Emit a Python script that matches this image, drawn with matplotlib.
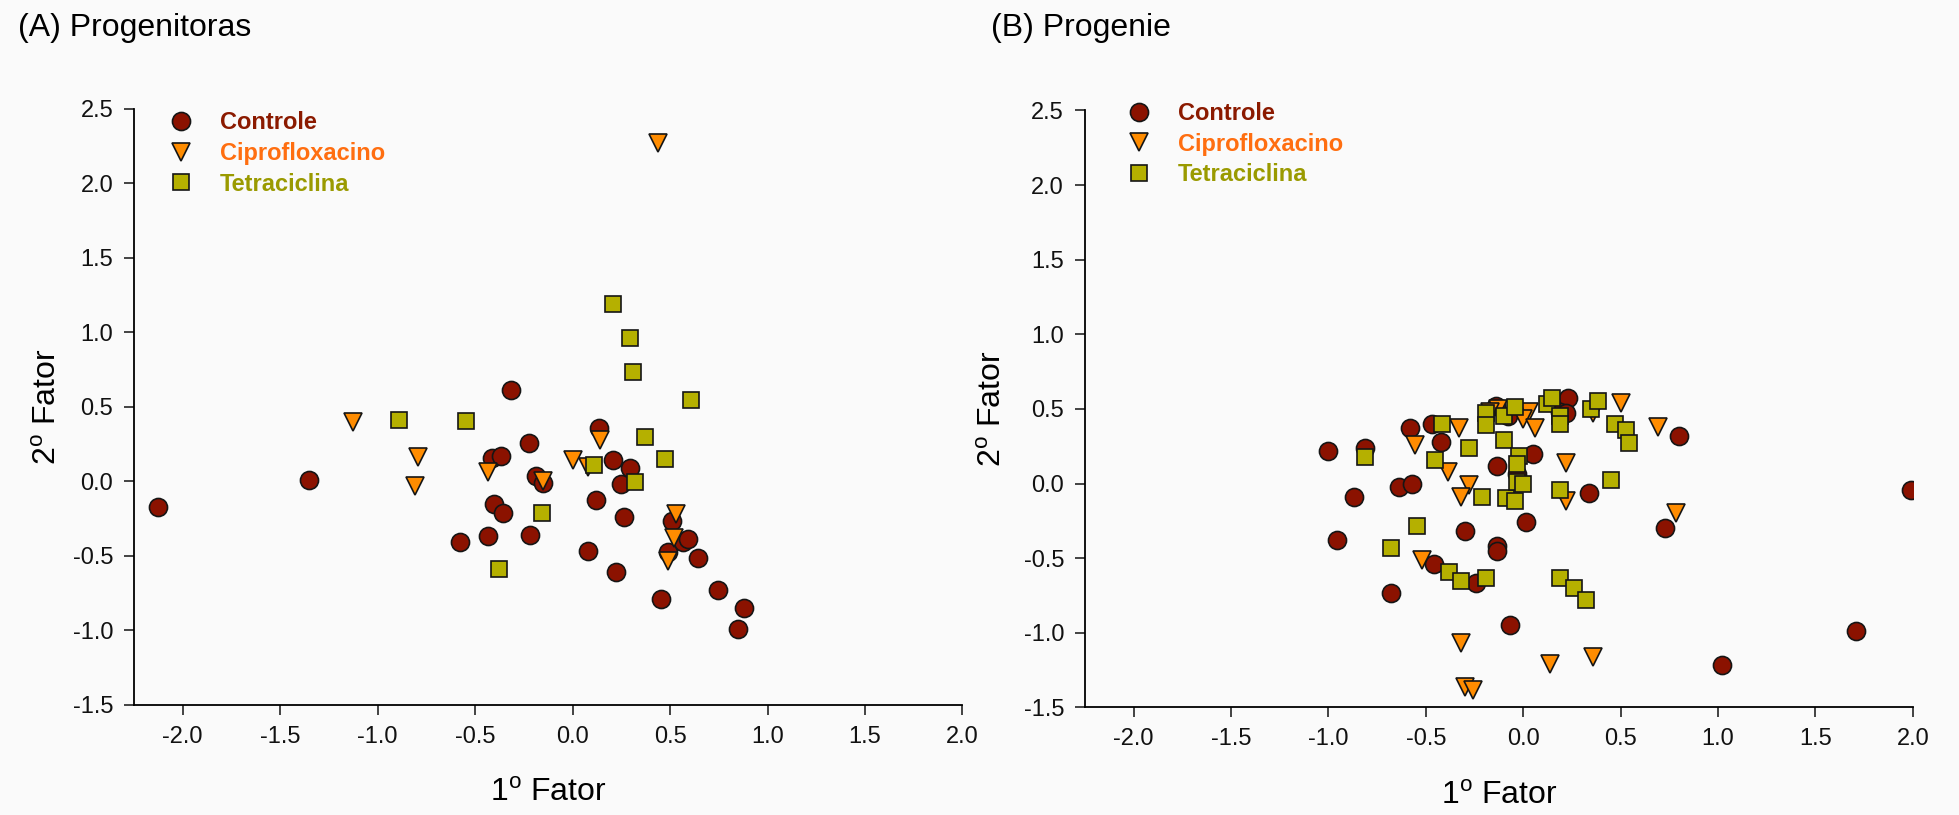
import numpy as np
import matplotlib
matplotlib.use("Agg")
from matplotlib import pyplot as plt
from matplotlib.lines import Line2D

plt.rcParams['font.family'] = ['Liberation Sans', 'DejaVu Sans']
plt.rcParams['mathtext.fontset'] = 'custom'
plt.rcParams['mathtext.rm'] = 'Liberation Sans'

# (A) Progenitoras
a_ctrl_x = [-2.125, -1.35, -0.577, -0.433, -0.413, -0.404, -0.365, -0.356, -0.317, -0.224,
            -0.22, -0.186, -0.154, 0.077, 0.119, 0.135, 0.205, 0.221, 0.25, 0.263,
            0.295, 0.455, 0.487, 0.51, 0.567, 0.59, 0.644, 0.744, 0.846, 0.881]
a_ctrl_y = [-0.17, 0.01, -0.405, -0.363, 0.157, -0.15, 0.174, -0.21, 0.617, 0.26,
            -0.356, 0.038, -0.007, -0.467, -0.122, 0.36, 0.143, -0.607, -0.014, -0.24,
            0.09, -0.79, -0.474, -0.265, -0.405, -0.383, -0.513, -0.73, -0.987, -0.85]
a_cipro_x = [-1.125, -0.795, -0.81, -0.436, 0.003, 0.077, 0.141, -0.154, 0.44, 0.529, 0.519, 0.487]
a_cipro_y = [0.40, 0.164, -0.028, 0.066, 0.146, 0.10, 0.275, 0.0, 2.27, -0.22, -0.377, -0.534]
a_tetra_x = [-0.888, -0.548, -0.375, -0.157, 0.112, 0.208, 0.295, 0.308, 0.32, 0.372, 0.474, 0.609]
a_tetra_y = [0.415, 0.408, -0.586, -0.209, 0.112, 1.193, 0.966, 0.736, -0.003, 0.30, 0.15, 0.544]

# (B) Progenie
b_ctrl_x = [-1.0, -0.81, -0.87, -0.955, -0.58, -0.47, -0.42, -0.64, -0.57, -0.68,
            -0.46, -0.30, -0.24, -0.135, -0.135, -0.135, -0.14, -0.08, -0.067, 0.016,
            0.05, -0.03, 0.23, 0.19, 0.22, 0.34, 0.73, 0.80, 1.02, 1.71, 1.99]
b_ctrl_y = [0.22, 0.24, -0.09, -0.38, 0.37, 0.40, 0.28, -0.02, 0.0, -0.735,
            -0.54, -0.32, -0.665, -0.42, -0.455, 0.12, 0.52, 0.45, -0.945, -0.26,
            0.20, 0.066, 0.575, 0.48, 0.47, -0.06, -0.30, 0.32, -1.215, -0.99, -0.04]
b_cipro_x = [-0.555, -0.33, -0.385, -0.28, -0.32, -0.52, -0.32, -0.30, -0.26, 0.14,
             0.36, 0.03, 0.0, 0.06, -0.13, 0.22, 0.22, 0.50, 0.69, 0.785, 0.36, -0.17]
b_cipro_y = [0.26, 0.37, 0.08, -0.01, -0.09, -0.51, -1.07, -1.36, -1.38, -1.21,
             -1.16, 0.48, 0.43, 0.37, 0.50, 0.135, -0.12, 0.54, 0.38, -0.195, 0.47, 0.48]
b_tetra_x = [-0.81, -0.68, -0.545, -0.455, -0.415, -0.38, -0.32, -0.28, -0.21, -0.19,
             -0.19, -0.19, -0.10, -0.10, -0.087, -0.04, -0.04, -0.02, -0.03, -0.03,
             0.0, 0.12, 0.15, 0.19, 0.19, 0.19, 0.19, 0.26, 0.32, 0.35, 0.385,
             0.45, 0.47, 0.53, 0.545]
b_tetra_y = [0.18, -0.435, -0.285, 0.16, 0.40, -0.595, -0.65, 0.24, -0.09, 0.47,
             0.39, -0.63, 0.455, 0.29, -0.10, -0.12, 0.51, 0.185, 0.13, 0.01,
             0.0, 0.535, 0.575, 0.45, 0.40, -0.04, -0.63, -0.70, -0.78, 0.50, 0.555,
             0.025, 0.40, 0.36, 0.275]

series_names = ["Controle", "Ciprofloxacino", "Tetraciclina"]
marker_fill = ["#8b1200", "#ff8c00", "#b5b000"]
text_color = ["#8b1a00", "#ff6e10", "#9a9a00"]
markers = ["o", "v", "s"]
msizes = [13, 13, 11.5]
bg = "#fafafa"

fig = plt.figure(figsize=(19.59, 8.15), dpi=100, facecolor=bg)
ax_a = fig.add_axes([0.0684, 0.135, 0.4229, 0.7313], facecolor=bg)
ax_b = fig.add_axes([0.5538, 0.132, 0.4226, 0.7325], facecolor=bg)

panels = [
    (ax_a, [(a_ctrl_x, a_ctrl_y), (a_cipro_x, a_cipro_y), (a_tetra_x, a_tetra_y)], (0.010, 1.032), 7),
    (ax_b, [(b_ctrl_x, b_ctrl_y), (b_cipro_x, b_cipro_y), (b_tetra_x, b_tetra_y)], (0.018, 1.050), 11),
]

for ax, data, leg_pos, ypad in panels:
    for i, (xs, ys) in enumerate(data):
        ax.plot(xs, ys, linestyle="none", marker=markers[i], ms=msizes[i],
                mfc=marker_fill[i], mec="#151515", mew=1.2, zorder=3 + i)
    ax.set_xlim(-2.25, 2.0)
    ax.set_ylim(-1.5, 2.5)
    ax.set_xticks(np.arange(-2.0, 2.01, 0.5))
    ax.set_yticks(np.arange(-1.5, 2.51, 0.5))
    ax.set_xticklabels(["%.1f" % v for v in np.arange(-2.0, 2.01, 0.5)])
    ax.set_yticklabels(["%.1f" % v for v in np.arange(-1.5, 2.51, 0.5)])
    ax.tick_params(direction="out", length=7, width=1.1, labelsize=17, pad=8, colors="#111111")
    for s in ["top", "right"]:
        ax.spines[s].set_visible(False)
    for s in ["left", "bottom"]:
        ax.spines[s].set_linewidth(1.3)
    ax.set_xlabel(r"1$^{\mathrm{o}}$ Fator", fontsize=23, labelpad=22)
    ax.set_ylabel(r"2$^{\mathrm{o}}$ Fator", fontsize=23, labelpad=ypad)

    handles = [Line2D([], [], linestyle="none", marker=markers[i], ms=msizes[i],
                      mfc=marker_fill[i], mec="#151515", mew=1.2) for i in range(3)]
    leg = ax.legend(handles, series_names, loc="upper left", bbox_to_anchor=leg_pos,
                    frameon=False, prop={"size": 17, "weight": "bold"},
                    handletextpad=0.9, labelspacing=0.33, handlelength=1.5)
    for t, c in zip(leg.get_texts(), text_color):
        t.set_color(c)

fig.text(0.009, 0.966, "(A) Progenitoras", fontsize=23, va="center", ha="left")
fig.text(0.506, 0.966, "(B) Progenie", fontsize=23, va="center", ha="left")

fig.savefig("out.png", dpi=100, facecolor=bg)
